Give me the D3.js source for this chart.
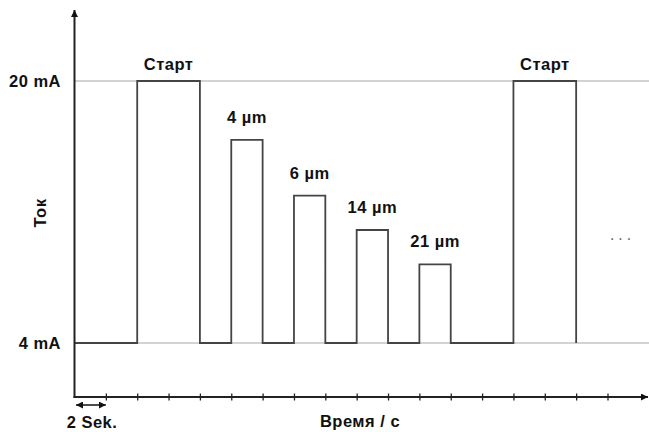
<!DOCTYPE html>
<html><head><meta charset="utf-8">
<script src="https://cdn.jsdelivr.net/npm/d3@7"></script>
<style>
html,body{margin:0;padding:0;background:#fff;}
svg text{font-family:"Liberation Sans",Arial,sans-serif;font-weight:bold;fill:#111;}
</style></head>
<body><svg id="c" width="649" height="432"></svg>
<script>
// ---- data ----
const pulseLabels = ["Старт", "4 µm", "6 µm", "14 µm", "21 µm", "Старт"];
const pulseStart = [4, 10, 14, 18, 22, 28];      // seconds
const pulseEnd = [8, 12, 16, 20, 24, 32];        // seconds
const pulseCurrent = [20, 16.4, 13.0, 10.9, 8.8, 20]; // mA
const baseCurrent = 4;
const signalStartTime = 0;
const yTickValues = [4, 20];
const yTickLabels = ["4 mA", "20 mA"];
const xTickValues = [2, 4, 6, 8, 10, 12, 14, 16, 18, 20, 22, 24, 26, 28, 30, 32, 34];
const xTitle = "Время / с";
const yTitle = "Ток";
const unitLabel = "2 Sek.";
const moreLabel = "···";

// ---- scales ----
const svg = d3.select("#c");
const x = d3.scaleLinear().domain([0, 34]).range([74.5, 607.5]);
const y = d3.scaleLinear().domain([4, 20]).range([343, 81]);
const axisY = 397, axisTop = 10, axisRight = 648;
const textStyle = s => s.style("font-size", "16.5px").style("letter-spacing", "0.5px");

const defs = svg.append("defs");
defs.append("marker").attr("id", "arr").attr("viewBox", "0 0 10 10")
  .attr("refX", 10).attr("refY", 5).attr("markerWidth", 7).attr("markerHeight", 7)
  .attr("markerUnits", "userSpaceOnUse").attr("orient", "auto-start-reverse")
  .append("path").attr("d", "M0,0 L10,5 L0,10 Z").attr("fill", "#111");

// gridlines
svg.append("g").selectAll("line").data(yTickValues).join("line")
  .attr("x1", x(0)).attr("x2", 649)
  .attr("y1", d => y(d)).attr("y2", d => y(d))
  .attr("stroke", "#c4c4c4").attr("stroke-width", 1.4);

// signal path
const pts = [[signalStartTime, baseCurrent]];
pulseStart.forEach((s, i) => {
  pts.push([s, baseCurrent], [s, pulseCurrent[i]], [pulseEnd[i], pulseCurrent[i]], [pulseEnd[i], baseCurrent]);
});
svg.append("path").datum(pts)
  .attr("d", d3.line().x(d => x(d[0])).y(d => y(d[1])))
  .attr("fill", "none").attr("stroke", "#444").attr("stroke-width", 1.8)
  .attr("stroke-linejoin", "miter");

// axes
svg.append("line").attr("x1", x(0)).attr("x2", x(0)).attr("y1", axisY + 1).attr("y2", axisTop)
  .attr("stroke", "#222").attr("stroke-width", 2).attr("marker-end", "url(#arr)");
svg.append("line").attr("x1", x(0) - 1).attr("x2", axisRight).attr("y1", axisY).attr("y2", axisY)
  .attr("stroke", "#222").attr("stroke-width", 2).attr("marker-end", "url(#arr)");

const xa = svg.append("g").attr("transform", `translate(0,${axisY})`)
  .call(d3.axisBottom(x).tickValues(xTickValues).tickFormat("").tickSize(3.5));
xa.select(".domain").remove();
xa.selectAll(".tick line").attr("y1", -3.5).attr("y2", 3.5).attr("stroke", "#222").attr("stroke-width", 1.3);

// y tick labels
svg.append("g").selectAll("text").data(yTickValues).join("text")
  .attr("x", 61).attr("y", d => y(d) + 6).attr("text-anchor", "end")
  .text((d, i) => yTickLabels[i]).call(textStyle);

// pulse labels
svg.append("g").selectAll("text").data(pulseLabels).join("text")
  .attr("x", (d, i) => (x(pulseStart[i]) + x(pulseEnd[i])) / 2)
  .attr("y", (d, i) => y(pulseCurrent[i]) - (pulseCurrent[i] === 20 ? 11 : 17))
  .attr("text-anchor", "middle").text(d => d).call(textStyle);

// titles
svg.append("text").attr("transform", "translate(46,213) rotate(-90)")
  .attr("text-anchor", "middle").text(yTitle).call(textStyle);
svg.append("text").attr("x", 360).attr("y", 427).attr("text-anchor", "middle")
  .text(xTitle).call(textStyle);
svg.append("text").attr("x", 92).attr("y", 428).attr("text-anchor", "middle")
  .text(unitLabel).call(textStyle);

// 2-second double arrow
svg.append("line").attr("x1", x(0) + 1.5).attr("x2", x(2)).attr("y1", 405).attr("y2", 405)
  .attr("stroke", "#111").attr("stroke-width", 1.5)
  .attr("marker-start", "url(#arr)").attr("marker-end", "url(#arr)");

// continuation dots
svg.append("text").attr("x", 622).attr("y", 244).attr("text-anchor", "middle")
  .style("font-size", "16px").style("font-weight", "normal").style("letter-spacing", "3px")
  .style("fill", "#666").text(moreLabel);
</script></body></html>
